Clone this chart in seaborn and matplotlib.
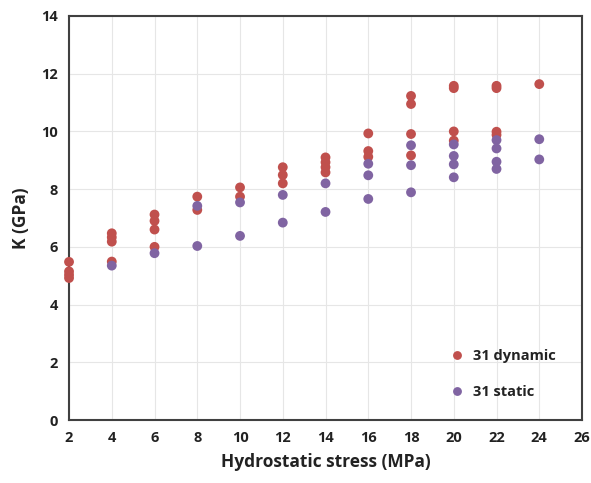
import numpy as np
import pandas as pd
import matplotlib
matplotlib.use("Agg")
import matplotlib.pyplot as plt
import seaborn as sns

dyn_x = [2, 2, 2, 2,
         4, 4, 4, 4,
         6, 6, 6, 6,
         8, 8,
         10, 10,
         12, 12, 12,
         14, 14, 14, 14,
         16, 16, 16,
         18, 18, 18, 18,
         20, 20, 20, 20,
         22, 22, 22, 22,
         24]
dyn_y = [5.48, 5.15, 5.03, 4.92,
         6.47, 6.33, 6.18, 5.49,
         7.12, 6.90, 6.60, 6.00,
         7.74, 7.28,
         8.06, 7.74,
         8.76, 8.49, 8.20,
         9.10, 8.93, 8.76, 8.58,
         9.93, 9.32, 9.12,
         11.23, 10.95, 9.91, 9.17,
         11.58, 11.50, 10.00, 9.68,
         11.58, 11.50, 9.99, 9.88,
         11.64]

sta_x = [4, 6, 8, 8, 10, 10, 12, 12, 14, 14,
         16, 16, 16, 18, 18, 18,
         20, 20, 20, 20,
         22, 22, 22, 22,
         24, 24]
sta_y = [5.35, 5.78, 7.42, 6.03, 7.54, 6.38, 7.80, 6.84, 8.20, 7.21,
         8.88, 8.48, 7.66, 9.52, 8.83, 7.89,
         9.55, 9.15, 8.86, 8.41,
         9.70, 9.41, 8.95, 8.70,
         9.73, 9.03]

series_names = ["31 dynamic", "31 static"]

df = pd.concat([
    pd.DataFrame({"x": dyn_x, "y": dyn_y, "series": series_names[0]}),
    pd.DataFrame({"x": sta_x, "y": sta_y, "series": series_names[1]}),
])

sns.set_theme(style="whitegrid")
plt.rcParams['font.family'] = ['Open Sans', 'DejaVu Sans']

fig = plt.figure(figsize=(5.91, 4.83), dpi=100)
ax = fig.add_axes([0.1168, 0.1304, 0.9848 - 0.1168, 0.9669 - 0.1304])

sns.scatterplot(data=df, x="x", y="y", hue="series",
                palette={series_names[0]: "#C0504D", series_names[1]: "#8064A2"},
                s=50, edgecolor="none", ax=ax, zorder=3, clip_on=False)

ax.set_xlim(2, 26)
ax.set_ylim(0, 14)
ax.set_xticks(np.arange(2, 27, 2))
ax.set_yticks(np.arange(0, 15, 2))
ax.grid(True, color="#E6E6E6", linewidth=0.8)
for sp in ax.spines.values():
    sp.set_visible(True)
    sp.set_color("#404040")
    sp.set_linewidth(1.5)
    sp.set_zorder(2)

ax.tick_params(axis="both", length=0, pad=8, labelsize=10.5, colors="#222222")
for lbl in ax.get_xticklabels() + ax.get_yticklabels():
    lbl.set_fontweight("bold")

ax.set_xlabel("Hydrostatic stress (MPa)", fontsize=12.5, fontweight="bold", color="#222222", labelpad=6)
ax.set_ylabel("K (GPa)", fontsize=12.5, fontweight="bold", color="#222222", labelpad=8)

leg = ax.legend(loc="lower right", bbox_to_anchor=(0.975, 0.02), frameon=False,
                fontsize=10.5, handletextpad=0.1, labelspacing=1.5, markerscale=0.9)
for t in leg.get_texts():
    t.set_fontweight("bold")
    t.set_color("#222222")

fig.savefig("out.png", dpi=100)
